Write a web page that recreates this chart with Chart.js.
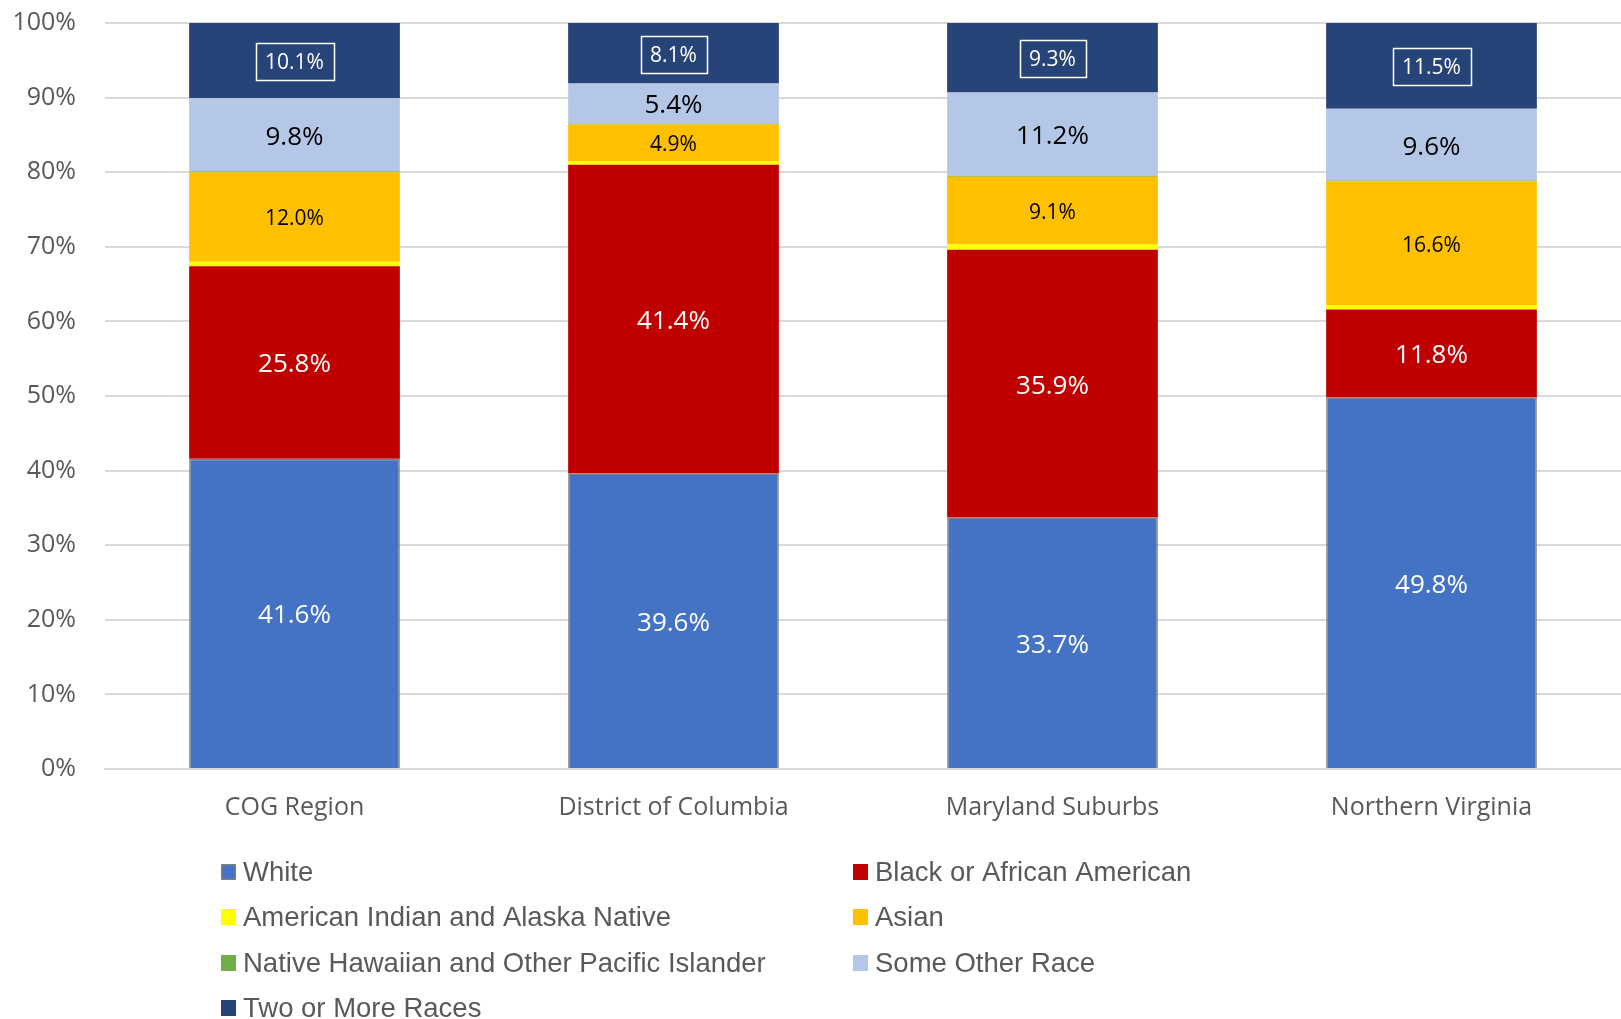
<!DOCTYPE html>
<html>
<head>
<meta charset="utf-8">
<script src="https://cdn.jsdelivr.net/npm/chart.js@4/dist/chart.umd.min.js"></script>
<style>
  html, body { margin: 0; padding: 0; background: #ffffff; }
  #wrap { width: 1621px; height: 1019px; }
</style>
</head>
<body>
<div id="wrap"><canvas id="c" width="1621" height="1019"></canvas></div>
<script>
const categories = ['COG Region', 'District of Columbia', 'Maryland Suburbs', 'Northern Virginia'];
const seriesNames = ['White', 'Black or African American', 'American Indian and Alaska Native', 'Asian',
  'Native Hawaiian and Other Pacific Islander', 'Some Other Race', 'Two or More Races'];
const whiteVals = [41.6, 39.6, 33.7, 49.8];
const blackVals = [25.8, 41.4, 35.9, 11.8];
const aianVals  = [0.6, 0.5, 0.7, 0.6];
const asianVals = [12.0, 4.9, 9.1, 16.6];
const nhpiVals  = [0.1, 0.1, 0.1, 0.1];
const otherVals = [9.8, 5.4, 11.2, 9.6];
const twoVals   = [10.1, 8.1, 9.3, 11.5];
const yTicks = [0, 10, 20, 30, 40, 50, 60, 70, 80, 90, 100];

const colors = ['#4472C4', '#C00000', '#FFFF00', '#FFC000', '#70AD47', '#B4C7E7', '#264478'];
const allVals = [whiteVals, blackVals, aianVals, asianVals, nhpiVals, otherVals, twoVals];
const labelStyle = [
  { color: '#ffffff', size: 26 },
  { color: '#ffffff', size: 26 },
  null,
  { color: '#000000', size: 21 },
  null,
  { color: '#000000', size: 26 },
  { color: '#ffffff', size: 21, box: true }
];

const FONT = "'Open Sans', 'Noto Sans', 'Liberation Sans', sans-serif";
const LEGEND_FONT = "'Liberation Sans', Arial, sans-serif";

const datasets = seriesNames.map((name, i) => ({
  label: name,
  data: allVals[i],
  backgroundColor: colors[i],
  borderColor: i === 0 ? '#7f7f7f' : colors[i],
  borderWidth: i === 0 ? 1.5 : 0,
  barPercentage: 0.556,
  categoryPercentage: 1.0
}));

const labelPlugin = {
  id: 'segLabels',
  afterDatasetsDraw(chart) {
    const ctx = chart.ctx;
    chart.data.datasets.forEach((ds, di) => {
      const st = labelStyle[di];
      if (!st) return;
      const meta = chart.getDatasetMeta(di);
      meta.data.forEach((el, idx) => {
        const v = ds.data[idx];
        const txt = v.toFixed(1) + '%';
        const cx = el.x;
        const cy = (el.y + el.base) / 2;
        ctx.save();
        ctx.font = st.size + 'px ' + FONT;
        ctx.fillStyle = st.color;
        ctx.textAlign = 'center';
        ctx.textBaseline = 'middle';
        ctx.fillText(txt, cx, cy + 2.5);
        if (st.box) {
          const w = ctx.measureText(txt).width + 19;
          const h = 37;
          ctx.strokeStyle = '#ffffff';
          ctx.lineWidth = 1.5;
          ctx.strokeRect(Math.round(cx - w / 2) + 0.5, Math.round(cy - h / 2) + 1.5, Math.round(w), h);
        }
        ctx.restore();
      });
    });
  }
};

const legendPlugin = {
  id: 'gridLegend',
  afterDraw(chart) {
    const ctx = chart.ctx;
    const colX = [221, 853];
    const rowY = [872, 917, 963, 1008];
    chart.data.datasets.forEach((ds, i) => {
      const col = i % 2, row = Math.floor(i / 2);
      const x = colX[col], y = rowY[row];
      ctx.save();
      ctx.fillStyle = ds.backgroundColor;
      ctx.fillRect(x, y - 8, 15, 16);
      if (i === 0) {
        ctx.strokeStyle = '#7f7f7f';
        ctx.lineWidth = 1.5;
        ctx.strokeRect(x + 0.75, y - 7.25, 13.5, 14.5);
      }
      ctx.font = '27.5px ' + LEGEND_FONT;
      ctx.fillStyle = '#595959';
      ctx.textAlign = 'left';
      ctx.textBaseline = 'middle';
      ctx.fillText(ds.label, x + 22, y + 1.5);
      ctx.restore();
    });
  }
};

function draw() {
  Chart.defaults.font.family = FONT;
  new Chart(document.getElementById('c'), {
    type: 'bar',
    data: { labels: categories, datasets },
    options: {
      responsive: false,
      animation: false,
      devicePixelRatio: 1,
      layout: { padding: { top: 23, right: 0, bottom: 0, left: 0 } },
      plugins: { legend: { display: false }, tooltip: { enabled: false } },
      scales: {
        x: {
          stacked: true,
          grid: { display: false, drawTicks: false },
          border: { display: true, color: '#d9d9d9', width: 2 },
          ticks: { color: '#595959', font: { size: 25, family: FONT }, padding: 24, maxRotation: 0 },
          afterFit(scale) { scale.height = 250; }
        },
        y: {
          stacked: true,
          min: 0, max: 100,
          afterBuildTicks(scale) { scale.ticks = yTicks.map(v => ({ value: v })); },
          grid: { color: '#d9d9d9', lineWidth: 2, drawTicks: false },
          border: { display: false },
          ticks: { color: '#595959', font: { size: 25, family: FONT }, padding: 29,
                   callback: v => v + '%' },
          afterFit(scale) { scale.width = 105; scale.paddingTop = 0; scale.paddingBottom = 0; }
        }
      }
    },
    plugins: [labelPlugin, legendPlugin]
  });
}

if (document.fonts && document.fonts.load) {
  Promise.all([document.fonts.load("24px 'Open Sans'"), document.fonts.load("26px 'Open Sans'"),
               document.fonts.load("27px 'Liberation Sans'")])
    .then(draw, draw);
} else { draw(); }
</script>
</body>
</html>
